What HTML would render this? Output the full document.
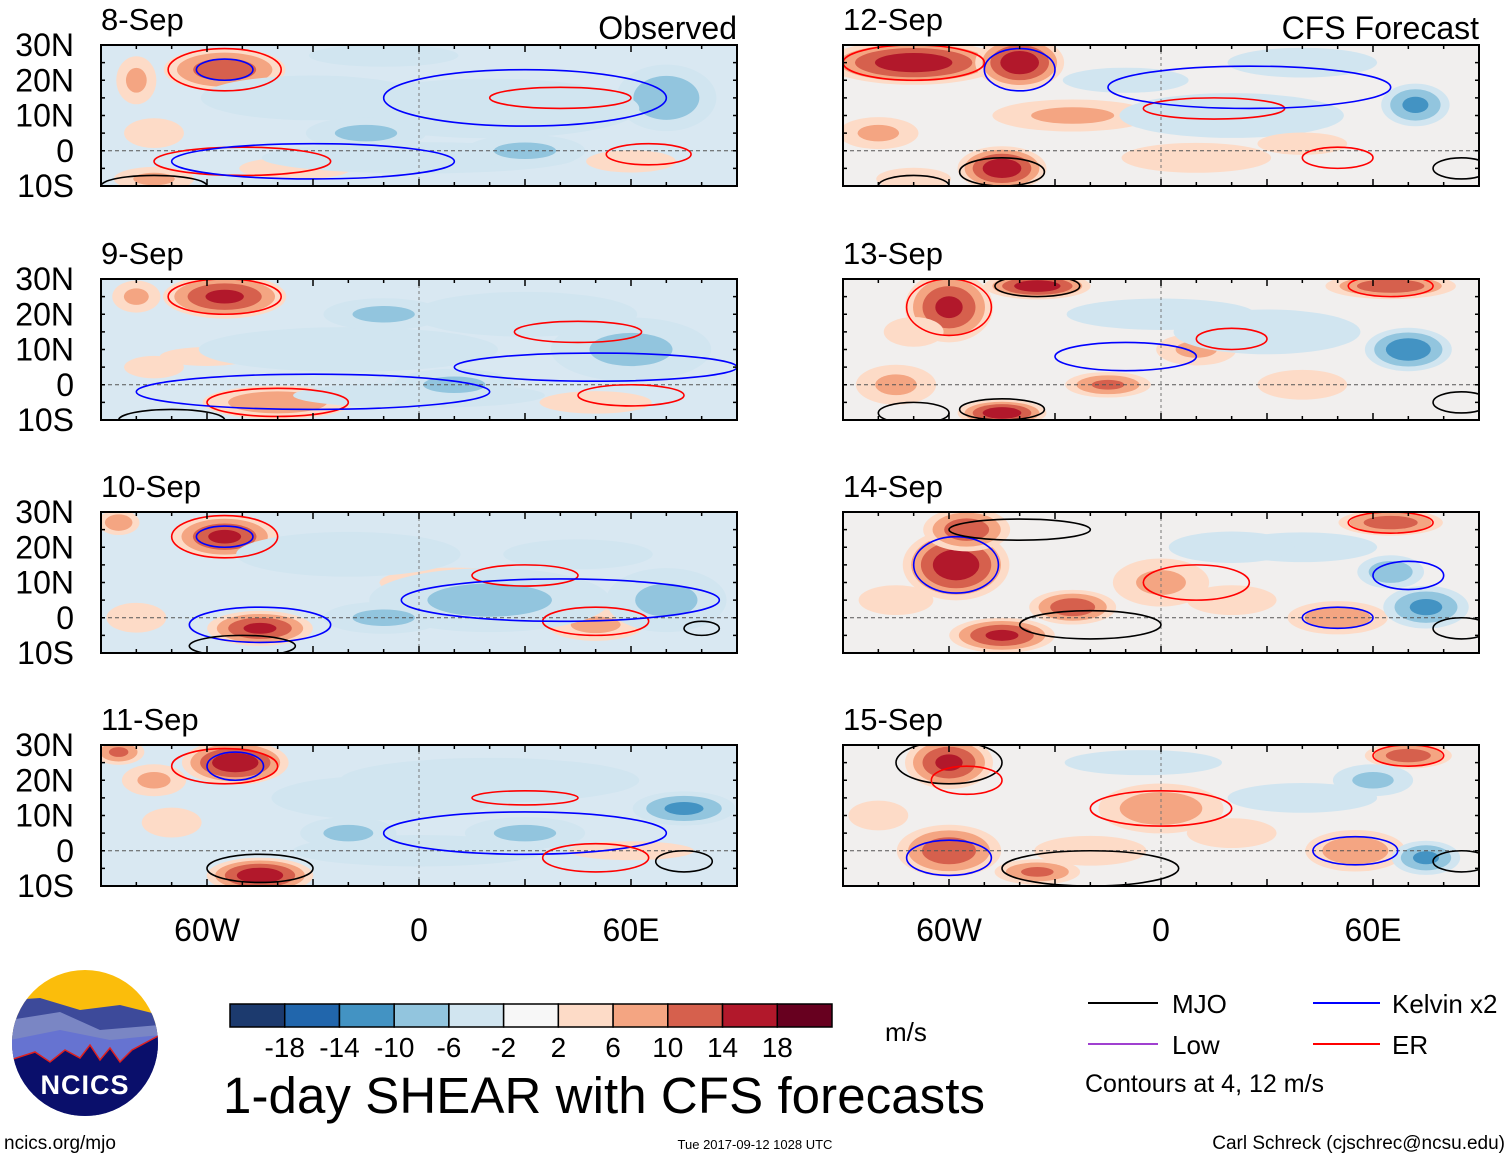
<!DOCTYPE html>
<html><head><meta charset="utf-8"><style>
body{margin:0;background:#fff;}
svg text{font-family:"Liberation Sans",sans-serif;}
</style></head><body>
<svg id="c" width="1510" height="1159" viewBox="0 0 1510 1159" xmlns="http://www.w3.org/2000/svg">
<defs><clipPath id="cl"><circle cx="85" cy="1043" r="73"/></clipPath></defs>
<g id="panels"></g>
<g clip-path="url(#cl)">
<rect x="10" y="968" width="150" height="150" fill="#fbbd0b"/>
<path d="M10 1000 L40 998 L80 1010 L120 1005 L160 1015 L160 1120 L10 1120Z" fill="#3d4a9a"/>
<path d="M10 1020 L60 1012 L100 1030 L160 1025 L160 1120 L10 1120Z" fill="#7a86c4"/>
<path d="M10 1040 L60 1030 L110 1040 L160 1035 L160 1120 L10 1120Z" fill="#6673d1"/>
<path d="M10 1060 L35 1052 L50 1062 L65 1050 L80 1058 L90 1045 L100 1060 L110 1048 L120 1062 L132 1050 L160 1035 L160 1120 L10 1120Z" fill="#0a0f6b" stroke="#e0201e" stroke-width="1.5"/>
<text x="85" y="1094" text-anchor="middle" font-size="27" font-weight="bold" fill="#fff" letter-spacing="1">NCICS</text>
</g>
<text x="4" y="1149" font-size="19">ncics.org/mjo</text>
<text x="755" y="1149" font-size="13" text-anchor="middle">Tue 2017-09-12 1028 UTC</text>
<text x="1505" y="1149" font-size="19" text-anchor="end">Carl Schreck (cjschrec@ncsu.edu)</text>
<text x="604" y="1113" font-size="51" text-anchor="middle" textLength="762">1-day SHEAR with CFS forecasts</text>
<text x="885" y="1041" font-size="26">m/s</text>
<g id="cbar"></g>
<g>
<line x1="1088" y1="1003" x2="1158" y2="1003" stroke="#000" stroke-width="2"/><text x="1172" y="1013" font-size="26">MJO</text>
<line x1="1313" y1="1003" x2="1380" y2="1003" stroke="#0000ff" stroke-width="2"/><text x="1392" y="1013" font-size="26">Kelvin x2</text>
<line x1="1088" y1="1044" x2="1158" y2="1044" stroke="#a040d0" stroke-width="2"/><text x="1172" y="1054" font-size="26">Low</text>
<line x1="1313" y1="1044" x2="1380" y2="1044" stroke="#ff0000" stroke-width="2"/><text x="1392" y="1054" font-size="26">ER</text>
<text x="1085" y="1092" font-size="25">Contours at 4, 12 m/s</text>
</g>
</svg>
<script>
const cbLevels=[-18,-14,-10,-6,-2,2,6,10,14,18];
const cbColors=['#1c3a6e','#2166ac','#4393c3','#92c5de','#d1e5f0','#f7f7f7','#fddbc7','#f4a582','#d6604d','#b2182b','#67001f'];
const panelTitles=['8-Sep','9-Sep','10-Sep','11-Sep','12-Sep','13-Sep','14-Sep','15-Sep'];
const lonTicks=[-60,0,60];
const lonTickLabels=['60W','0','60E'];
const latTicks=[30,20,10,0,-10];
const latTickLabels=['30N','20N','10N','0','10S'];
// blobs per panel: [lon, lat, lonRadius, latRadius, peak m/s]
const blobs0=[[-55,23,14,5,14],[-80,20,5,6,8],[-75,-8,10,3,8],[-35,-5,15,3,6],[60,-3,12,3,6],[45,15,10,3,6],[70,15,12,8,-10],[-30,15,30,6,-6],[20,12,40,8,-6],[0,-2,50,5,-4],[-10,27,20,3,-6],[-75,5,8,4,6],[30,0,15,4,-8],[-15,5,15,4,-8]];
const blobs1=[[-55,25,14,5,16],[-80,25,6,4,8],[-40,-5,18,4,10],[50,-5,15,3,6],[-60,8,15,3,4],[-20,10,40,6,-6],[30,20,30,6,-6],[60,10,20,8,-8],[0,-3,40,4,-4],[-75,5,8,3,6],[10,0,15,4,-8],[-10,20,15,4,-8]];
const blobs2=[[-55,23,12,5,16],[-45,-3,12,4,16],[-85,27,5,3,10],[50,-2,12,4,8],[10,10,20,4,6],[-20,18,30,6,-6],[20,5,30,8,-8],[70,5,15,8,-8],[45,18,20,4,-6],[-80,0,8,4,6],[-10,0,15,4,-8]];
const blobs3=[[-52,25,12,5,18],[-85,28,6,3,12],[-45,-7,12,4,18],[-75,20,8,4,8],[60,0,20,3,4],[-10,15,30,6,-6],[75,12,12,4,-12],[20,20,40,6,-6],[0,0,40,5,-4],[-70,8,8,4,6],[30,5,15,4,-8],[-20,5,12,4,-8]];
const blobs4=[[-70,25,20,5,18],[-40,25,10,6,18],[-45,-5,10,5,18],[-25,10,20,4,8],[10,-2,20,4,6],[-80,5,10,4,8],[72,13,8,5,-12],[40,25,20,4,-6],[20,10,30,6,-6],[-10,20,20,4,-4],[-70,-8,10,3,6],[40,2,12,3,6]];
const blobs5=[[-60,22,10,8,16],[-35,28,12,3,18],[-45,-8,10,3,18],[-15,0,10,3,12],[10,10,10,4,8],[65,28,15,3,14],[-75,0,10,5,8],[70,10,10,5,-14],[30,15,25,6,-6],[0,20,30,5,-4],[40,0,12,4,6],[-70,15,8,4,6]];
const blobs6=[[-58,15,12,8,18],[-55,25,10,5,14],[-45,-5,12,4,16],[-25,3,10,4,14],[0,10,12,6,8],[50,0,12,4,10],[65,27,12,3,14],[75,3,10,5,-12],[40,20,20,4,-6],[65,13,8,4,-10],[20,20,20,5,-4],[-75,5,10,4,6],[20,5,12,4,6]];
const blobs7=[[-60,25,10,6,16],[-60,0,12,6,14],[-35,-6,10,3,12],[0,12,15,6,10],[55,0,12,5,10],[70,27,10,3,14],[-20,0,15,4,6],[75,-2,8,4,-12],[40,15,20,4,-6],[60,20,10,4,-8],[-5,25,25,4,-4],[-80,10,8,4,6],[20,5,12,4,6]];
const allBlobs=[blobs0,blobs1,blobs2,blobs3,blobs4,blobs5,blobs6,blobs7];
// contour ellipses per panel: [lon, lat, lonRadius, latRadius, type]  type: 0=MJO 1=Kelvin 2=ER
const cont0=[[-55,23,16,6,2],[-55,23,8,3,1],[-50,-3,25,4,2],[-30,-3,40,5,1],[65,-1,12,3,2],[40,15,20,3,2],[30,15,40,8,1],[-75,-10,15,3,0]];
const cont1=[[-55,25,16,5,2],[-40,-5,20,4,2],[-30,-2,50,5,1],[45,15,18,3,2],[50,5,40,4,1],[60,-3,15,3,2],[-70,-10,15,3,0]];
const cont2=[[-55,23,15,6,2],[-55,23,8,3,1],[-45,-2,20,5,1],[50,-1,15,4,2],[30,12,15,3,2],[40,5,45,6,1],[-50,-8,15,3,0],[80,-3,5,2,0]];
const cont3=[[-55,24,15,5,2],[-52,24,8,4,1],[-45,-5,15,4,0],[30,15,15,2,2],[30,5,40,6,1],[50,-2,15,4,2],[75,-3,8,3,0]];
const cont4=[[-70,25,20,5,2],[-40,23,10,6,1],[-45,-6,12,4,0],[15,12,20,3,2],[25,18,40,6,1],[50,-2,10,3,2],[-70,-10,10,3,0],[85,-5,8,3,0]];
const cont5=[[-60,22,12,8,2],[-35,28,12,3,0],[-45,-7,12,3,0],[-10,8,20,4,1],[20,13,10,3,2],[65,28,12,3,2],[-70,-8,10,3,0],[85,-5,8,3,0]];
const cont6=[[-58,15,12,8,1],[-40,25,20,3,0],[-20,-2,20,4,0],[10,10,15,5,2],[50,0,10,3,1],[65,27,12,3,2],[70,12,10,4,1],[85,-3,8,3,0]];
const cont7=[[-60,25,15,6,0],[-55,20,10,4,2],[-60,-2,12,5,1],[-20,-5,25,5,0],[0,12,20,5,2],[55,0,12,4,1],[70,27,10,3,2],[85,-3,8,3,0]];
const allConts=[cont0,cont1,cont2,cont3,cont4,cont5,cont6,cont7];

const NS='http://www.w3.org/2000/svg';
function mk(tag,attrs,parent){const e=document.createElementNS(NS,tag);for(const k in attrs)e.setAttribute(k,attrs[k]);parent.appendChild(e);return e;}
function colorFor(v){let i=0;while(i<cbLevels.length&&v>cbLevels[i])i++;return cbColors[i];}
const PW=636,PH=141,lonMin=-90,lonMax=90,latMin=-10,latMax=30;
const lefts=[101,843],tops=[45,279,512,745];
const lineCol=['#000000','#0000ff','#ff0000'];
const GROW=1.35;
const root=document.getElementById('panels');
for(let p=0;p<8;p++){
  const x0=lefts[p<4?0:1],y0=tops[p%4];
  const xs=lon=>x0+(lon-lonMin)/(lonMax-lonMin)*PW;
  const ys=lat=>y0+(latMax-lat)/(latMax-latMin)*PH;
  const sx=PW/(lonMax-lonMin),sy=PH/(latMax-latMin);
  const g=mk('g',{},root);
  
  
  const cid='pc'+p;
  const cp=mk('clipPath',{id:cid},g);mk('rect',{x:x0,y:y0,width:PW,height:PH},cp);
  const inner=mk('g',{'clip-path':'url(#'+cid+')'},g);
  mk('rect',{x:x0,y:y0,width:PW,height:PH,fill:p<4?'#d9e8f2':'#f1efee'},inner);
  allBlobs[p].forEach(b=>{
    const [lon,lat,rl,rt,v]=b;const a=Math.abs(v),s=Math.sign(v);
    for(let lv=2;lv<a;lv+=4){
      const f=Math.pow(1-lv/a,0.6);
      const e=mk('ellipse',{cx:xs(lon),cy:ys(lat),rx:rl*sx*f*GROW,ry:rt*sy*f*GROW,fill:colorFor(s*(lv+1))},inner);
      
      
    }
  });
  mk('line',{x1:x0,y1:ys(0),x2:x0+PW,y2:ys(0),stroke:'#555','stroke-dasharray':'4,3','stroke-width':1},inner);
  mk('line',{x1:xs(0),y1:y0,x2:xs(0),y2:y0+PH,stroke:'#777','stroke-dasharray':'3,3','stroke-width':1},inner);
  allConts[p].forEach(c=>{
    const e=mk('ellipse',{cx:xs(c[0]),cy:ys(c[1]),rx:c[2]*sx,ry:c[3]*sy,fill:'none',stroke:lineCol[c[4]],'stroke-width':1.6},inner);
    
    
  });
  mk('rect',{x:x0,y:y0,width:PW,height:PH,fill:'none',stroke:'#000','stroke-width':2},g);
  for(let l=-90;l<=90;l+=10){const t=(l%30===0)?7:4;
    mk('line',{x1:xs(l),y1:y0,x2:xs(l),y2:y0+t,stroke:'#000','stroke-width':1.5},g);
    mk('line',{x1:xs(l),y1:y0+PH,x2:xs(l),y2:y0+PH-t,stroke:'#000','stroke-width':1.5},g);}
  for(let l=-10;l<=30;l+=5){mk('line',{x1:x0,y1:ys(l),x2:x0+4,y2:ys(l),stroke:'#000','stroke-width':1.5},g);
    mk('line',{x1:x0+PW,y1:ys(l),x2:x0+PW-4,y2:ys(l),stroke:'#000','stroke-width':1.5},g);}
  const tt=mk('text',{x:x0,y:y0-15,'font-size':31},g);tt.textContent=panelTitles[p];
  
  
  if(p===0||p===4){const lb=mk('text',{x:x0+PW,y:y0-6,'font-size':32,'text-anchor':'end'},g);lb.textContent=p===0?'Observed':'CFS Forecast';
    
    }
  if(p<4){latTicks.forEach((l,i)=>{const t=mk('text',{x:74,y:ys(l)+11,'font-size':32,'text-anchor':'end'},g);t.textContent=latTickLabels[i];
    
    });}
  if(p%4===3){lonTicks.forEach((l,i)=>{const t=mk('text',{x:xs(l),y:941,'font-size':32,'text-anchor':'middle'},g);t.textContent=lonTickLabels[i];
    
    });}
}
const cb=document.getElementById('cbar');const bw=602/cbColors.length;
cbColors.forEach((c,i)=>{const r=mk('rect',{x:230+i*bw,y:1004,width:bw,height:23,fill:c,stroke:'#000','stroke-width':1.5},cb);
  
  });
cbLevels.forEach((l,i)=>{const t=mk('text',{x:230+(i+1)*bw,y:1057,'font-size':28,'text-anchor':'middle'},cb);t.textContent=l;
  
  });
</script>
</body></html>
